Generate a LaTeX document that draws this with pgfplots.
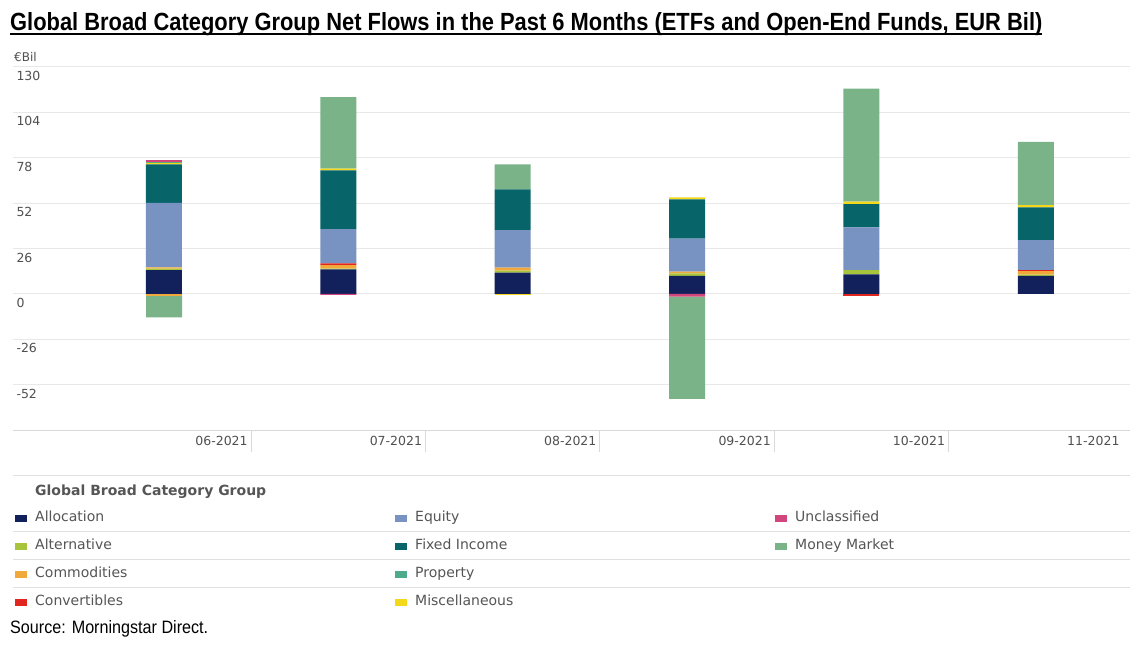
\documentclass[border=0pt]{standalone}
\usepackage{fontspec}
\setmainfont{DejaVu Sans}
\newfontfamily\condfont{Liberation Sans}
\usepackage{pgfplots}
\usepackage{pgfplotstable}
\pgfplotsset{compat=1.18}

\definecolor{alloc}{HTML}{12205C}
\definecolor{alt}{HTML}{A8C43C}
\definecolor{comm}{HTML}{F2A93B}
\definecolor{conv}{HTML}{E0261F}
\definecolor{eq}{HTML}{7893C2}
\definecolor{fi}{HTML}{07656A}
\definecolor{misc}{HTML}{F4D81A}
\definecolor{mm}{HTML}{79B387}
\definecolor{prop}{HTML}{4DAA8B}
\definecolor{uncl}{HTML}{D2467E}
\definecolor{tickgray}{HTML}{505050}
\definecolor{leggray}{HTML}{555555}

% positive flows, EUR bil, one row per month (06-2021 .. 11-2021)
\pgfplotstableread{
x alloc alt comm conv eq   fi   misc mm   prop uncl
0 13.6  0.8 0.7  0.0  36.9 22.1 0.8  0.0  0.8  1.1
1 14.0  0.4 2.0  1.0  19.6 33.7 1.0  40.9 0.0  0.0
2 12.1  1.2 1.7  0.0  21.5 23.3 0.0  14.3 0.0  0.0
3 10.2  1.5 1.0  0.0  18.9 22.5 1.1  0.0  0.0  0.0
4 11.1  2.5 0.0  0.0  24.4 13.3 1.4  64.7 0.0  0.0
5 10.2  0.8 2.0  0.6  17.1 18.8 1.2  36.2 0.0  0.0
}\postab

% negative flows
\pgfplotstableread{
x comm conv misc uncl mm
0 -1.3 0.0  0.0  0.0  -12.2
1 0.0  0.0  0.0  -0.6 0.0
2 0.0  0.0  -0.5 0.0  0.0
3 0.0  0.0  0.0  -1.6 -58.6
4 0.0  -1.2 0.0  0.0  0.0
5 0.0  0.0  0.0  0.0  0.0
}\negtab

\pgfplotsset{
  base/.style={
    scale only axis, width=1117pt, height=363.3pt,
    at={(13pt,216pt)}, anchor=south west,
    xmin=-0.866, xmax=5.54, ymin=-78, ymax=130,
    ybar stacked, bar width=36pt,
    axis line style={draw=none},
    clip=false,
  },
  sq/.style={legend image code/.code={\fill[##1] (0pt,-3.5pt) rectangle (12pt,3.5pt);}},
}
\newcommand{\legitem}[2]{\addlegendimage{sq,fill=#1,draw=none}\addlegendentry{\makebox[368pt][l]{\hspace{8pt}#2}}}
\newcommand{\legempty}{\addlegendimage{empty legend}\addlegendentry{}}

\begin{document}
\begin{tikzpicture}
\useasboundingbox (0,0) rectangle (1138pt,646pt);

\begin{axis}[base,
  ytick={-52,-26,0,26,52,78,104,130},
  ymajorgrids, grid style={gray!18, line width=0.8pt},
  ytick style={draw=none},
  yticklabel style={anchor=north west, yshift=-1pt},
  xtick={0.5,1.5,2.5,3.5,4.5,5.5},
  xticklabels={06-2021,07-2021,08-2021,09-2021,10-2021,11-2021},
  xtick style={draw=none},
  xticklabel style={anchor=north east, yshift=-3pt},
  tick label style={font=\fontsize{12.5}{14}\selectfont, text=tickgray},
  /pgf/number format/assume math mode=true,
  legend columns=3,
  legend cell align=left,
  legend style={at={(axis description cs:0.0018,-0.223)}, anchor=north west,
    draw=none, fill=none, inner sep=0pt, row sep=14pt,
    font=\fontsize{14}{16}\selectfont, text=leggray,
    nodes={inner sep=0pt, text height=10.5pt, text depth=3.5pt}},
]
\addplot[fill=alloc, draw=none, forget plot] table[x=x, y=alloc] {\postab};
\addplot[fill=alt,   draw=none, forget plot] table[x=x, y=alt]   {\postab};
\addplot[fill=comm,  draw=none, forget plot] table[x=x, y=comm]  {\postab};
\addplot[fill=conv,  draw=none, forget plot] table[x=x, y=conv]  {\postab};
\addplot[fill=eq,    draw=none, forget plot] table[x=x, y=eq]    {\postab};
\addplot[fill=fi,    draw=none, forget plot] table[x=x, y=fi]    {\postab};
\addplot[fill=misc,  draw=none, forget plot] table[x=x, y=misc]  {\postab};
\addplot[fill=mm,    draw=none, forget plot] table[x=x, y=mm]    {\postab};
\addplot[fill=prop,  draw=none, forget plot] table[x=x, y=prop]  {\postab};
\addplot[fill=uncl,  draw=none, forget plot] table[x=x, y=uncl]  {\postab};

\draw[gray!30, line width=0.8pt] (rel axis cs:0,0) -- (rel axis cs:1,0);
\pgfplotsinvokeforeach{0.5,1.5,2.5,3.5,4.5}{
  \draw[gray!30, line width=1pt] (axis cs:#1,-78) -- ++(0pt,-22pt);
}

\legitem{alloc}{Allocation}\legitem{eq}{Equity}\legitem{uncl}{Unclassified}
\legitem{alt}{Alternative}\legitem{fi}{Fixed Income}\legitem{mm}{Money Market}
\legitem{comm}{Commodities}\legitem{prop}{Property}\legempty
\legitem{conv}{Convertibles}\legitem{misc}{Miscellaneous}\legempty
\end{axis}

\begin{axis}[base, hide axis]
\addplot[fill=comm, draw=none] table[x=x, y=comm] {\negtab};
\addplot[fill=conv, draw=none] table[x=x, y=conv] {\negtab};
\addplot[fill=misc, draw=none] table[x=x, y=misc] {\negtab};
\addplot[fill=uncl, draw=none] table[x=x, y=uncl] {\negtab};
\addplot[fill=mm,   draw=none] table[x=x, y=mm]   {\negtab};
\end{axis}

% title, units, legend heading, separators, source
\node[anchor=base west, inner sep=0pt] at (10pt,615pt)
  {\resizebox{1032pt}{18pt}{\condfont\bfseries Global Broad Category Group Net Flows in the Past 6 Months (ETFs and Open-End Funds, EUR Bil)}};
\draw[line width=1.8pt] (10pt,612.3pt) -- (1042pt,612.3pt);
\node[anchor=base west, inner sep=0pt, font=\fontsize{12}{14}\selectfont, text=tickgray] at (14pt,584pt) {€Bil};
\draw[gray!25, line width=1pt] (13pt,171pt) -- (1130pt,171pt);
\node[anchor=west, inner sep=0pt, font=\fontsize{14}{16}\selectfont\bfseries, text=leggray] at (35pt,154pt) {Global Broad Category Group};
\foreach \yy in {115,87,59} {\draw[gray!25, line width=1pt] (13pt,\yy pt) -- (1130pt,\yy pt);}
\node[anchor=base west, inner sep=0pt] at (10pt,13pt)
  {\resizebox{198pt}{13pt}{\condfont Source: Morningstar Direct.}};
\end{tikzpicture}
\end{document}
